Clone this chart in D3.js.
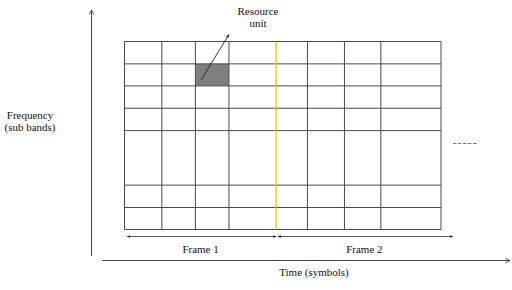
<!DOCTYPE html>
<html>
<head>
<meta charset="utf-8">
<script src="https://cdn.jsdelivr.net/npm/d3@7"></script>
<style>
  body { margin: 0; background: #fff; }
</style>
</head>
<body>
<svg id="chart" width="512" height="290"></svg>
<script>
// column edges along time (arbitrary symbol units, 0..100)
const timeEdges = [0, 11.8, 22.4, 33.0, 47.9, 57.8, 69.5, 81.0, 100];
// row edges along frequency (sub band units, 0..100)
const freqEdges = [0, 11.7, 23.6, 52.6, 64.5, 76.4, 88.1, 100];
// frame boundary (yellow line)
const frameBoundary = 47.9;
// shaded resource unit: [t0, t1, f0, f1]
const resourceUnit = [22.4, 33.0, 76.4, 88.1];
// frames: label and extent in time units
const frames = [
  { name: "Frame 1", from: 0.8, to: 47.9 },
  { name: "Frame 2", from: 48.5, to: 103.7 },
];
const axisLabels = { x: "Time (symbols)", y: ["Frequency", "(sub bands)"], unit: ["Resource", "unit"] };

const FONT = "'Liberation Serif', 'Times New Roman', Times, 'DejaVu Serif', serif";

const svg = d3.select("#chart")
  .attr("font-family", FONT)
  .attr("font-size", 11);

const x = d3.scaleLinear().domain([0, 100]).range([124.5, 441]);
const y = d3.scaleLinear().domain([0, 100]).range([229.5, 41.5]);

// markers
const defs = svg.append("defs");
defs.append("marker")
  .attr("id", "solid")
  .attr("viewBox", "0 0 10 10")
  .attr("refX", 9).attr("refY", 5)
  .attr("markerWidth", 4).attr("markerHeight", 4)
  .attr("orient", "auto-start-reverse")
  .append("path").attr("d", "M0,1 L10,5 L0,9 Z").attr("fill", "#222");
defs.append("marker")
  .attr("id", "open")
  .attr("viewBox", "0 0 10 10")
  .attr("refX", 9).attr("refY", 5)
  .attr("markerWidth", 6).attr("markerHeight", 6)
  .attr("markerUnits", "userSpaceOnUse")
  .attr("orient", "auto")
  .append("path").attr("d", "M1,1 L9,5 L1,9").attr("fill", "none").attr("stroke", "#333").attr("stroke-width", 1.3);

// shaded resource unit
svg.append("rect")
  .attr("x", x(resourceUnit[0]))
  .attr("y", y(resourceUnit[3]))
  .attr("width", x(resourceUnit[1]) - x(resourceUnit[0]))
  .attr("height", y(resourceUnit[2]) - y(resourceUnit[3]))
  .attr("fill", "#7f7f7f");

// grid lines
const grid = svg.append("g").attr("stroke", "#4a4a4a").attr("stroke-width", 1);
grid.selectAll(".h")
  .data(freqEdges)
  .enter()
  .append("line")
  .attr("x1", x(0)).attr("x2", x(100))
  .attr("y1", (d) => y(d)).attr("y2", (d) => y(d));
grid.selectAll(".v")
  .data(timeEdges.filter((d) => d !== frameBoundary))
  .enter()
  .append("line")
  .attr("x1", (d) => x(d)).attr("x2", (d) => x(d))
  .attr("y1", y(0)).attr("y2", y(100));

// frame boundary
svg.append("line")
  .attr("x1", x(frameBoundary)).attr("x2", x(frameBoundary))
  .attr("y1", y(0)).attr("y2", y(100))
  .attr("stroke", "#f4b91c").attr("stroke-width", 1.3);

// frame spans
frames.forEach((f) => {
  svg.append("line")
    .attr("x1", x(f.from)).attr("x2", x(f.to))
    .attr("y1", 236.5).attr("y2", 236.5)
    .attr("stroke", "#333").attr("stroke-width", 0.8)
    .attr("marker-start", "url(#solid)")
    .attr("marker-end", "url(#solid)");
  svg.append("text")
    .attr("x", x((f.from + f.to) / 2) - 1)
    .attr("y", 253)
    .attr("text-anchor", "middle")
    .attr("fill", "#111")
    .text(f.name);
});

// axes
svg.append("line")
  .attr("x1", 91.5).attr("x2", 91.5).attr("y1", 256).attr("y2", 10)
  .attr("stroke", "#444").attr("stroke-width", 1)
  .attr("marker-end", "url(#open)");
svg.append("line")
  .attr("x1", 102).attr("x2", 510).attr("y1", 260.5).attr("y2", 260.5)
  .attr("stroke", "#444").attr("stroke-width", 1)
  .attr("marker-end", "url(#open)");

svg.append("text")
  .attr("x", 314).attr("y", 276)
  .attr("text-anchor", "middle")
  .attr("fill", "#111")
  .text(axisLabels.x);

svg.append("text")
  .attr("x", 30).attr("y", 119)
  .attr("text-anchor", "middle")
  .attr("fill", "#111")
  .selectAll("tspan")
  .data(axisLabels.y)
  .enter()
  .append("tspan")
  .attr("x", 30)
  .attr("dy", (d, i) => (i === 0 ? 0 : 12))
  .text((d) => d);

// resource unit callout
svg.append("line")
  .attr("x1", 201).attr("y1", 80).attr("x2", 229).attr("y2", 34.5)
  .attr("stroke", "#222").attr("stroke-width", 0.9)
  .attr("marker-end", "url(#solid)");
svg.append("text")
  .attr("x", 258).attr("y", 15)
  .attr("text-anchor", "middle")
  .attr("fill", "#111")
  .selectAll("tspan")
  .data(axisLabels.unit)
  .enter()
  .append("tspan")
  .attr("x", 258)
  .attr("dy", (d, i) => (i === 0 ? 0 : 11.5))
  .text((d) => d);

// continuation dashes
svg.append("line")
  .attr("x1", 453).attr("x2", 477).attr("y1", 143.5).attr("y2", 143.5)
  .attr("stroke", "#555").attr("stroke-width", 0.8)
  .attr("stroke-dasharray", "3.5,1.5");
</script>
</body>
</html>
